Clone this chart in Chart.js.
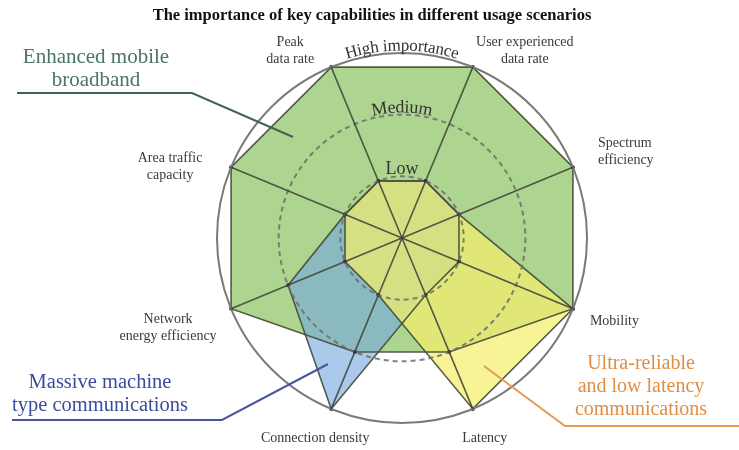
<!DOCTYPE html>
<html>
<head>
<meta charset="utf-8">
<script src="https://cdn.jsdelivr.net/npm/chart.js@4.4.1/dist/chart.umd.min.js"></script>
<style>
  html, body { margin: 0; padding: 0; background: #ffffff; }
  #wrap { width: 739px; height: 450px; position: relative; }
</style>
</head>
<body>
<div id="wrap"><canvas id="c" width="739" height="450"></canvas></div>
<script>
// ---- data ----
const categories = [
  ["Peak", "data rate"],
  ["User experienced", "data rate"],
  ["Spectrum", "efficiency"],
  ["Mobility"],
  ["Latency"],
  ["Connection density"],
  ["Network", "energy efficiency"],
  ["Area traffic", "capacity"]
];
// importance: 1 = Low, 2 = Medium, 3 = High
const embbValues  = [3, 3, 3, 3, 2, 2, 3, 3];
const mmtcValues  = [1, 1, 1, 1, 1, 3, 2, 1];
const urllcValues = [1, 1, 1, 3, 3, 1, 1, 1];
const tickLabels = { 1: "Low", 2: "Medium", 3: "High importance" };
const seriesNames = [
  ["Enhanced mobile", "broadband"],
  ["Massive machine", "type communications"],
  ["Ultra-reliable", "and low latency", "communications"]
];
const titleText = "The importance of key capabilities in different usage scenarios";

// ---- label placement (styles/positions) ----
const labelOffsets = [
  { dx: -41, dy: -25, align: "center" },
  { dx: 52,  dy: -25, align: "center" },
  { dx: 25,  dy: -24, align: "left" },
  { dx: 17,  dy: 13,  align: "left" },
  { dx: 12,  dy: 29,  align: "center" },
  { dx: -16, dy: 29,  align: "center" },
  { dx: -63, dy: 11,  align: "center" },
  { dx: -61, dy: -9,  align: "center" }
];
const SERIF = "'Liberation Serif', 'DejaVu Serif', serif";

function curvedText(ctx, text, cx, cy, R) {
  const total = ctx.measureText(text).width;
  let a = -total / R / 2;
  for (const ch of text) {
    const w = ctx.measureText(ch).width;
    const mid = a + (w / 2) / R;
    ctx.save();
    ctx.translate(cx + R * Math.sin(mid), cy - R * Math.cos(mid));
    ctx.rotate(mid);
    ctx.textAlign = "center";
    ctx.textBaseline = "middle";
    ctx.fillText(ch, 0, 0);
    ctx.restore();
    a += w / R;
  }
}

const decor = {
  id: "decor",
  afterDraw(chart) {
    const ctx = chart.ctx;
    const s = chart.scales.r;
    const cx = s.xCenter, cy = s.yCenter;
    ctx.save();
    // title
    ctx.fillStyle = "#111";
    ctx.font = "bold 16.5px " + SERIF;
    ctx.textAlign = "center";
    ctx.textBaseline = "middle";
    ctx.fillText(titleText, 372, 16);
    // axis labels
    ctx.fillStyle = "#3a3a3a";
    ctx.font = "14px " + SERIF;
    ctx.textBaseline = "middle";
    categories.forEach((lines, i) => {
      const p = s.getPointPosition(i, s.getDistanceFromCenterForValue(3));
      const o = labelOffsets[i];
      ctx.textAlign = o.align;
      lines.forEach((ln, k) => ctx.fillText(ln, p.x + o.dx, p.y + o.dy + k * 17));
    });
    // tick labels
    ctx.fillStyle = "#333333";
    ctx.font = "17px " + SERIF;
    curvedText(ctx, tickLabels[3], cx, cy, s.getDistanceFromCenterForValue(3) + 7);
    ctx.font = "18px " + SERIF;
    curvedText(ctx, tickLabels[2], cx, cy, s.getDistanceFromCenterForValue(2) + 7);
    ctx.textAlign = "center";
    ctx.textBaseline = "middle";
    ctx.fillText(tickLabels[1], cx, cy - s.getDistanceFromCenterForValue(1) - 7);

    // series annotations
    ctx.textBaseline = "middle";
    ctx.textAlign = "center";
    // eMBB
    ctx.font = "21px " + SERIF;
    ctx.fillStyle = "#4a7560";
    ctx.fillText(seriesNames[0][0], 96, 57);
    ctx.fillText(seriesNames[0][1], 96, 80);
    ctx.strokeStyle = "#3f6453";
    ctx.lineWidth = 2;
    ctx.beginPath();
    ctx.moveTo(17, 93); ctx.lineTo(192, 93); ctx.lineTo(293, 137);
    ctx.stroke();
    // mMTC
    ctx.font = "20.5px " + SERIF;
    ctx.fillStyle = "#3c4c9c";
    ctx.fillText(seriesNames[1][0], 100, 383);
    ctx.fillText(seriesNames[1][1], 100, 406);
    ctx.strokeStyle = "#4a559f";
    ctx.beginPath();
    ctx.moveTo(12, 420); ctx.lineTo(222, 420); ctx.lineTo(328, 364);
    ctx.stroke();
    // URLLC
    ctx.font = "20px " + SERIF;
    ctx.fillStyle = "#e08e45";
    ctx.fillText(seriesNames[2][0], 641, 364);
    ctx.fillText(seriesNames[2][1], 641, 387);
    ctx.fillText(seriesNames[2][2], 641, 410);
    ctx.strokeStyle = "#e39a58";
    ctx.beginPath();
    ctx.moveTo(484, 366); ctx.lineTo(565, 426); ctx.lineTo(739, 426);
    ctx.stroke();
    ctx.restore();
  }
};

const edge = "rgba(65,75,55,0.9)";
function fillSet(name, values, color, order) {
  return { label: name, data: values, order: order, fill: true,
    backgroundColor: color, borderColor: "rgba(0,0,0,0)", borderWidth: 0,
    pointRadius: 0 };
}
function edgeSet(name, values) {
  return { label: name + " outline", data: values, order: 0, fill: false,
    backgroundColor: "rgba(0,0,0,0)", borderColor: edge, borderWidth: 1.6,
    pointRadius: 2, pointBackgroundColor: "#333", pointBorderWidth: 0 };
}
new Chart(document.getElementById("c"), {
  type: "radar",
  data: {
    labels: categories,
    datasets: [
      fillSet(seriesNames[0].join(" "), embbValues, "rgba(148,200,108,0.76)", 3),
      fillSet(seriesNames[1].join(" "), mmtcValues, "rgba(118,168,222,0.62)", 2),
      fillSet(seriesNames[2].join(" "), urllcValues, "rgba(245,238,108,0.72)", 1),
      edgeSet(seriesNames[0].join(" "), embbValues),
      edgeSet(seriesNames[1].join(" "), mmtcValues),
      edgeSet(seriesNames[2].join(" "), urllcValues)
    ]
  },
  options: {
    responsive: false,
    animation: false,
    elements: { line: { tension: 0 } },
    layout: { padding: { left: 120, right: 55, top: 53, bottom: 27 } },
    plugins: {
      legend: { display: false },
      tooltip: { enabled: false }
    },
    scales: {
      r: {
        min: 0, max: 3,
        startAngle: -22.5,
        ticks: { display: false, stepSize: 1, z: 1 },
        pointLabels: { display: false },
        angleLines: { color: "rgba(60,64,55,0.85)", lineWidth: 1.6 },
        grid: {
          z: 1,
          circular: true,
          color: ctx => ctx.tick && ctx.tick.value === 3 ? "#7a7a7a" : "rgba(105,110,105,0.85)",
          lineWidth: 2
        },
        border: { dash: ctx => (ctx.tick && ctx.tick.value < 3) ? [5, 4] : [] }
      }
    }
  },
  plugins: [decor]
});
</script>
</body>
</html>
